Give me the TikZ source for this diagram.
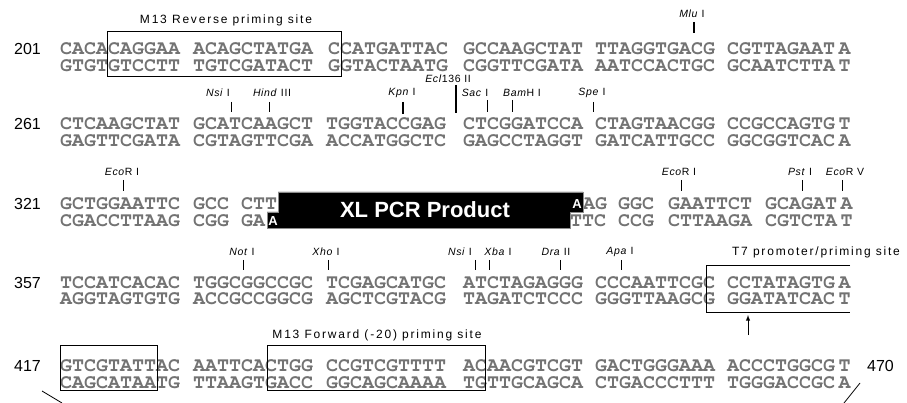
\documentclass[tikz,border=0pt]{standalone}
\usepackage[T1]{fontenc}
\usepackage{fontspec}
\setmainfont{Liberation Sans}
\newfontfamily\lblfont[LetterSpace=15]{Liberation Sans}
\newfontfamily\enzfont[LetterSpace=6]{Liberation Sans}
\usetikzlibrary{arrows.meta}
\newcommand{\seqfont}{\fontencoding{T1}\fontfamily{pcr}\fontseries{b}\fontshape{n}\fontsize{20}{20}\selectfont}
\tikzset{
  seq/.style={anchor=base west,inner sep=0pt,text height=11pt,text depth=0pt,text=black!55,font=\seqfont},
  num/.style={anchor=base east,inner sep=0pt,font=\fontsize{16}{16}\selectfont},
  enz/.style={inner sep=0pt,font=\enzfont\fontsize{10.5}{10.5}\selectfont},
  site/.style={inner sep=0pt,font=\lblfont\fontsize{12}{12}\selectfont},
  cut/.style={line width=0.8pt},
  boldcut/.style={line width=2pt},
  primebox/.style={line width=0.9pt}
}

\begin{document}
\begin{tikzpicture}[x=1pt,y=-1pt]
  \useasboundingbox (0,0) rectangle (907,403);
  % Line numbers
  \node[num] (n201) at (41,55) {201};
  \node[num] (n261) at (41,130) {261};
  \node[num] (n321) at (41,210) {321};
  \node[num] (n357) at (41,288) {357};
  \node[num] (n417) at (41,371) {417};
  \node[num] (n470) at (894,371) {470};

  % Row 201
  \foreach \x/\s [count=\i] in {60/CACACAGGAA,193/ACAGCTATGA,328/CCATGATTAC,463/GCCAAGCTAT,595/TTAGGTGACG,727/CGTTAGAAT\,A}
    \node[seq] (r1t\i) at (\x,55) {\s};
  \foreach \x/\s [count=\i] in {60/GTGTGTCCTT,193/TGTCGATACT,328/GGTACTAATG,463/CGGTTCGATA,595/AATCCACTGC,727/GCAATCTTA\,T}
    \node[seq] (r1b\i) at (\x,72) {\s};
  \draw[primebox] (107,31) rectangle (341,76);
  \node[site] (m13rev) at (226,20) {M13 Reverse priming site};
  \node[enz] (mlu) at (692,14) {\textit{Mlu} I};
  \draw[boldcut] (694,22)--(694,33);

  % Row 261
  \foreach \x/\s [count=\i] in {60/CTCAAGCTAT,193/GCATCAAGCT,326/TGGTACCGAG,463/CTCGGATCCA,595/CTAGTAACGG,727/CCGCCAGTG\,T}
    \node[seq] (r2t\i) at (\x,130) {\s};
  \foreach \x/\s [count=\i] in {60/GAGTTCGATA,193/CGTAGTTCGA,326/ACCATGGCTC,463/GAGCCTAGGT,595/GATCATTGCC,727/GGCGGTCAC\,A}
    \node[seq] (r2b\i) at (\x,147) {\s};
  \node[enz] (nsi) at (218,93) {\textit{Nsi} I};
  \node[enz] (hind) at (272,93) {\textit{Hind} III};
  \node[enz] (kpn) at (402,93) {\textit{Kpn} I};
  \node[enz] (ecl) at (448,79) {\textit{Ecl}136 II};
  \node[enz] (sac) at (475,93) {\textit{Sac} I};
  \node[enz] (bam) at (522,93) {\textit{Bam}H I};
  \node[enz] (spe) at (592,93) {\textit{Spe} I};
  \draw[cut] (231,102)--(231,112);
  \draw[cut] (269,102)--(269,112);
  \draw[boldcut] (403,102)--(403,114);
  \draw[line width=1.1pt] (456,85)--(456,113);
  \draw[cut] (487,100)--(487,112);
  \draw[cut] (512,100)--(512,112);
  \draw[cut] (593,102)--(593,112);

  % Row 321
  \node[seq] (r3t1) at (60,210) {GCTGGAATTC};
  \node[seq] (r3t2) at (193,210) {GCC};
  \node[seq] (r3t3) at (241,210) {CTT};
  \node[seq] (r3t4) at (583,210) {AG};
  \node[seq] (r3t5) at (618,210) {GGC};
  \node[seq] (r3t6) at (668,210) {GAATTCT};
  \node[seq] (r3t7) at (765,210) {GCAGAT\,A};
  \node[seq] (r3b1) at (60,227) {CGACCTTAAG};
  \node[seq] (r3b2) at (193,227) {CGG};
  \node[seq] (r3b3) at (241,227) {GA};
  \node[seq] (r3b4) at (570,227) {TTC};
  \node[seq] (r3b5) at (618,227) {CCG};
  \node[seq] (r3b6) at (668,227) {CTTAAGA};
  \node[seq] (r3b7) at (765,227) {CGTCTA\,T};
  % PCR insert
  \filldraw[fill=black,draw=black!45,line width=0.6pt] (278,192)--(583,192)--(583,212)--(570,212)--(570,228)--(267,228)--(267,212)--(278,212)--cycle;
  \node[inner sep=0pt,text=white,font=\bfseries\fontsize{22}{22}\selectfont] (xlpcr) at (425,210) {XL PCR Product};
  \node[anchor=base,inner sep=0pt,text=white,font=\bfseries\fontsize{13}{13}\selectfont] (ovr) at (577,209) {A};
  \node[anchor=base,inner sep=0pt,text=white,font=\bfseries\fontsize{13}{13}\selectfont] (ovl) at (273,226) {A};
  \node[enz] (ecoa) at (122,172) {\textit{Eco}R I};
  \node[enz] (ecob) at (679,172) {\textit{Eco}R I};
  \node[enz] (pst) at (800,172) {\textit{Pst} I};
  \node[enz] (ecov) at (845,172) {\textit{Eco}R V};
  \draw[cut] (123,180)--(123,191);
  \draw[cut] (681,180)--(681,191);
  \draw[cut] (802,180)--(802,191);
  \draw[cut] (842,180)--(842,191);

  % Row 357
  \foreach \x/\s [count=\i] in {60/TCCATCACAC,193/TGGCGGCCGC,326/TCGAGCATGC,463/ATCTAGAGGG,595/CCCAATTCGC,727/CCTATAGTG\,A}
    \node[seq] (r4t\i) at (\x,288) {\s};
  \foreach \x/\s [count=\i] in {60/AGGTAGTGTG,193/ACCGCCGGCG,326/AGCTCGTACG,463/TAGATCTCCC,595/GGGTTAAGCG,727/GGATATCAC\,T}
    \node[seq] (r4b\i) at (\x,305) {\s};
  \node[enz] (not) at (242,252) {\textit{Not} I};
  \node[enz] (xho) at (326,252) {\textit{Xho} I};
  \node[enz] (nsib) at (460,252) {\textit{Nsi} I};
  \node[enz] (xba) at (498,252) {\textit{Xba} I};
  \node[enz] (dra) at (556,252) {\textit{Dra} II};
  \node[enz] (apa) at (620,252) {\textit{Apa} I};
  \draw[cut] (243,260)--(243,270);
  \draw[cut] (328,260)--(328,270);
  \draw[cut] (475,260)--(475,270);
  \draw[cut] (489,260)--(489,270);
  \draw[cut] (560,260)--(560,270);
  \draw[cut] (621,260)--(621,270);
  % T7 site
  \draw[primebox] (850,265)-|(706,312)--(850,312);
  \node[site] (t7) at (816,252) {T7 promoter/priming site};
  \coordinate (t7tail) at (748,335);
  \coordinate (t7tip) at (748,315);
  \draw[-latex,line width=0.9pt] (t7tail)--(t7tip);

  % Row 417
  \foreach \x/\s [count=\i] in {60/GTCGTATTAC,193/AATTCACTGG,326/CCGTCGTTTT,463/ACAACGTCGT,595/GACTGGGAAA,727/ACCCTGGCG\,T}
    \node[seq] (r5t\i) at (\x,371) {\s};
  \foreach \x/\s [count=\i] in {60/CAGCATAATG,193/TTAAGTGACC,326/GGCAGCAAAA,463/TGTTGCAGCA,595/CTGACCCTTT,727/TGGGACCGC\,A}
    \node[seq] (r5b\i) at (\x,388) {\s};
  \draw[primebox] (60,345) rectangle (157,390);
  \draw[primebox] (267,345) rectangle (485,390);
  \node[site] (m13fwd) at (377,335) {M13 Forward (-20) priming site};
  % Leaders to map
  \draw[cut] (42,391)--(62,403);
  \draw[cut] (860,383)--(844,403);
\end{tikzpicture}
\end{document}
